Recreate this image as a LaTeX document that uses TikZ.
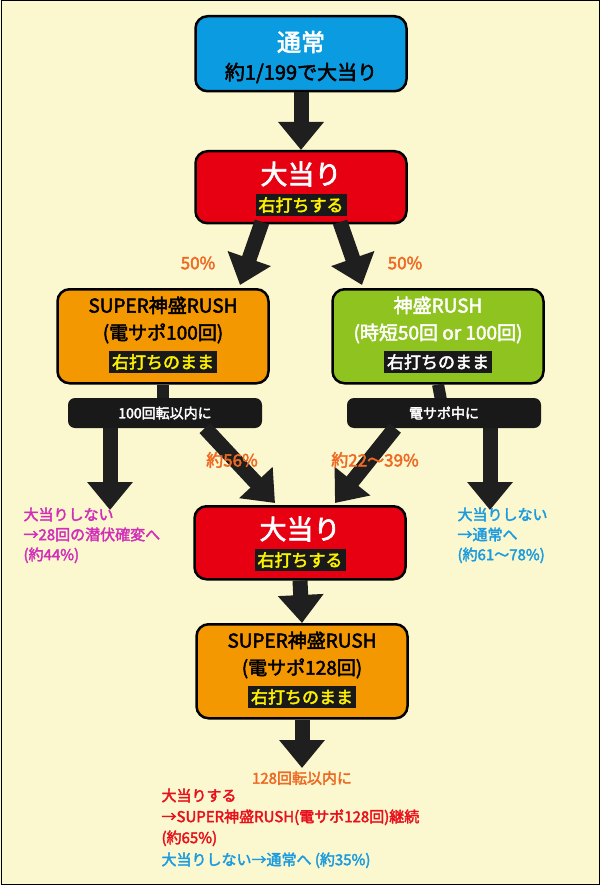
\documentclass[tikz,border=0pt]{standalone}
\usepackage{fontspec}
\setmainfont{Noto Sans CJK JP}[AutoFakeBold=2.5]
\usetikzlibrary{arrows.meta}
\definecolor{bgyel}{HTML}{FBF7CE}
\definecolor{ablue}{HTML}{0A9BE0}
\definecolor{ared}{HTML}{E60012}
\definecolor{aorange}{HTML}{F39800}
\definecolor{agreen}{HTML}{8FC31F}
\definecolor{torange}{HTML}{EE6A24}
\definecolor{tmag}{HTML}{D12FB8}
\definecolor{tblue}{HTML}{1B9BE0}
\definecolor{tred}{HTML}{E8101C}
\definecolor{ayel}{HTML}{FFF100}
\tikzset{
  box/.style = {draw = black, line width = 2.5pt, rounded corners = 12pt, minimum width = 211pt, anchor = north},
  tag/.style = {fill = black!90, text = ayel, font = \bfseries\fontsize{17}{17}\selectfont, inner sep = 3pt},
  bar/.style = {fill = black!90, rounded corners = 7pt, minimum width = 194pt, minimum height = 30pt, text = white, font = \bfseries\fontsize{14}{14}\selectfont},
  big/.style = {line width = 15pt, -{Triangle[length = 28pt, width = 44pt]}, black!88},
  pct/.style = {text = torange, font = \bfseries\fontsize{17}{17}\selectfont},
  note/.style = {anchor = north west, align = left, font = \bfseries\fontsize{15}{20}\selectfont}
}
\begin{document}
\begin{tikzpicture}[x = 1pt, y = -1pt]
	 \fill[bgyel] (0, 0) rectangle (600, 885);
	 \draw[line width = 1pt] (1, 1) rectangle (599, 884);
	 \useasboundingbox (0, 0) rectangle (600, 885);
	 
	 % top
	 \node[box, fill = ablue, minimum height = 75pt] (normal) at (301, 15) {};
	 \node[text = white, font = \bfseries\fontsize{24}{24}\selectfont] at (301, 42) {通常};
	 \node[font = \bfseries\fontsize{20}{20}\selectfont] at (301, 73) {約1/199で大当り};
	 
	 \node[box, fill = ared, minimum height = 72pt] (hit1) at (301, 150) {};
	 \node[text = white, font = \bfseries\fontsize{27}{27}\selectfont] at (301, 174) {大当り};
	 \node[tag] at (301, 205) {右打ちする};
	 
	 % two modes
	 \node[box, fill = aorange, minimum height = 94pt] (super1) at (163, 288) {};
	 \node[font = \bfseries\fontsize{19}{27}\selectfont, align = center] at (163, 320) {SUPER神盛RUSH\\(電サポ100回)};
	 \node[tag] at (163, 362) {右打ちのまま};
	 
	 \node[box, fill = agreen, minimum height = 94pt] (rush) at (438, 288) {};
	 \node[text = white, font = \bfseries\fontsize{19}{27}\selectfont, align = center] at (438, 320) {神盛RUSH\\(時短50回 or 100回)};
	 \node[tag, text = white] at (438, 362) {右打ちのまま};
	 
	 \draw[line width = 12pt, black!88] (super1.south) -- (163, 400);
	 \draw[line width = 12pt, black!88] (rush.south) -- (441, 400);
	 \node[bar] (bar1) at (165, 413) {100回転以内に};
	 \node[bar] (bar2) at (444, 413) {電サポ中に};
	 
	 \node[box, fill = ared, minimum height = 73pt] (hit2) at (300, 505) {};
	 \node[text = white, font = \bfseries\fontsize{27}{27}\selectfont] at (300, 529) {大当り};
	 \node[tag] at (300, 560) {右打ちする};
	 
	 \node[box, fill = aorange, minimum height = 94pt] (super2) at (302, 623) {};
	 \node[font = \bfseries\fontsize{19}{27}\selectfont, align = center] at (302, 655) {SUPER神盛RUSH\\(電サポ128回)};
	 \node[tag] at (302, 697) {右打ちのまま};
	 
	 % arrows
	 \draw[big] (normal.south) -- (hit1.north);
	 \draw[big] (262, 222) -- (240, 285);
	 \draw[big] (340, 222) -- (362, 285);
	 \draw[big] (110, 428) -- (110, 510);
	 \draw[big] (205, 428) -- (275, 503);
	 \draw[big] (395, 428) -- (335, 503);
	 \draw[big] (490, 428) -- (490, 510);
	 \draw[big] (hit2.south) -- (super2.north);
	 \coordinate (end) at (302, 768);
	 \draw[big] (super2.south) -- (end);
	 
	 % labels
	 \node[pct] at (232, 460) {約56\%};
	 \node[pct] at (375, 460) {約22〜39\%};
	 \node[pct] at (198, 263) {50\%};
	 \node[pct] at (405, 263) {50\%};
	 
	 \node[note, text = tmag] at (20, 504) {大当りしない\\→28回の潜伏確変へ\\(約44\%)};
	 \node[note, text = tblue] at (454, 504) {大当りしない\\→通常へ\\(約61〜78\%)};
	 
	 \node[pct, font = \bfseries\fontsize{15}{15}\selectfont] at (302, 778) {128回転以内に};
	 \node[note, text = tred, font = \bfseries\fontsize{15}{21}\selectfont] at (158, 785) {大当りする\\→SUPER神盛RUSH(電サポ128回)継続\\(約65\%)};
	 \node[note, text = tblue] at (158, 849) {大当りしない→通常へ (約35\%)};
\end{tikzpicture}
\end{document}
